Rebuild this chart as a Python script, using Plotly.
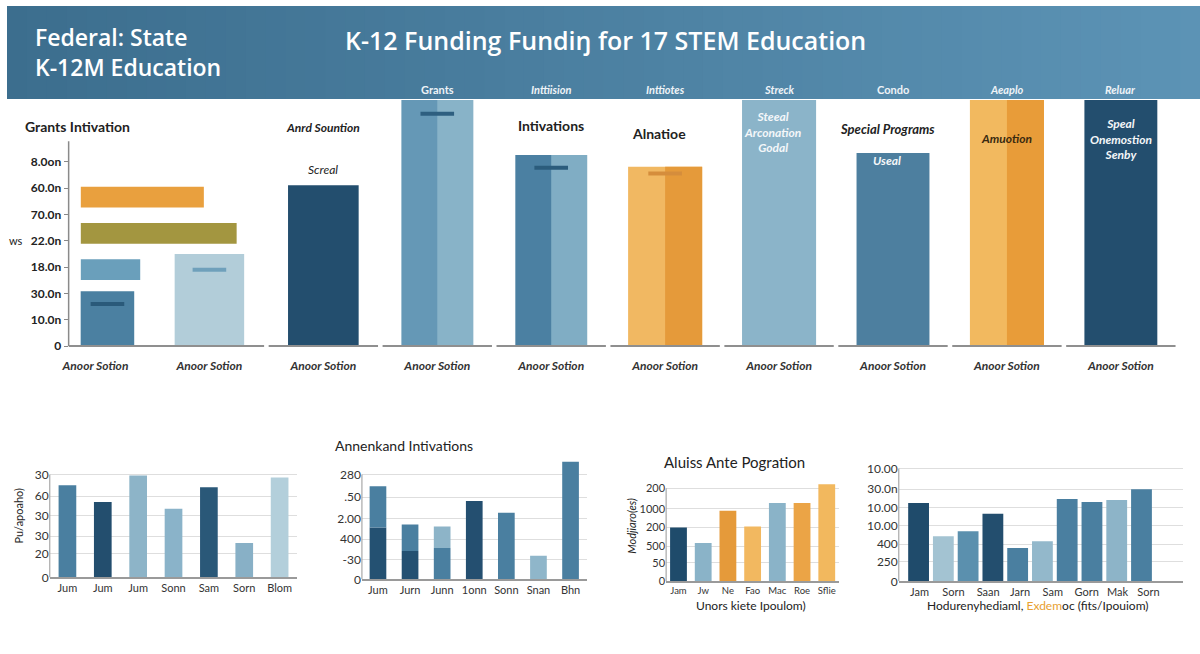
import plotly.graph_objects as go

W, H = 1200, 654


def fx(px):
    return px / W


def fy(px):
    return 1 - px / H


# ---------------- data ----------------
# top panel, one bar per group
top_labels = ["Anoor Sotion"] * 10
top_values = [56, 94, 164, 262, 195, 183, 258, 197, 266, 270]
top_colors = ["#4b80a1", "#b2cdd9", "#234e6e", "#6598b6", "#4b80a2",
              "#f1b862", "#8bb4c9", "#4d7f9f", "#f2b95f", "#234e6e"]
half_values = [None, None, None, 262, 195, 183, None, None, 266, None]
half_colors = ["#88b3c8", "#88b3c8", "#88b3c8", "#88b3c8", "#80adc4",
               "#e59a3a", "#88b3c8", "#88b3c8", "#e89c39", "#88b3c8"]
top_tick_text = ["<b>0</b>", "10.0n", "30.0n", "18.0n", "22.0n", "70.0n", "60.0n", "8.0on"]
header_labels = ["Grants", "Inttiision", "Inttiotes", "Streck", "Condo", "Aeaplo", "Reluar"]

dash_groups = [0, 1, 3, 4, 5]
dash_values = [43, 78, 237, 182, 176]
dash_colors = ["#2a5a7a", "#6fa0bb", "#2e5f80", "#2b5c7c", "#d58d3c"]

# horizontal inset bars (bottom to top)
inset_values = [60, 157, 124]
inset_colors = ["#6a9fbb", "#a39640", "#e9a03e"]

# bottom panel A
a_labels = ["Jum", "Jum", "Jum", "Sonn", "Sam", "Sorn", "Blom"]
a_values = [94, 77, 104, 70, 92, 35, 102]
a_colors = ["#4a7fa0", "#234e6e", "#8db4c8", "#8ab3c9", "#2a5878", "#88b0c6", "#b3cfdb"]
a_tick_vals = [0, 24, 42, 63, 83, 105]
a_tick_text = ["0", "20", "30", "30", "60", "30"]

# bottom panel B (stacked)
b_labels = ["Jum", "Jurn", "Junn", "1onn", "Sonn", "Snan", "Bhn"]
b_lower = [53, 29, 32, 80, 68, 24, 120]
b_upper = [42, 27, 22, None, None, None, None]
b_lower_colors = ["#245172", "#245172", "#4a7fa0", "#244f70", "#4a7fa0", "#8fb6ca", "#4a7fa0"]
b_upper_colors = ["#4a7fa0", "#4a7fa0", "#8db4c8", "#4a7fa0", "#4a7fa0", "#4a7fa0", "#4a7fa0"]
b_tick_vals = [0, 20, 41, 62, 84, 107]
b_tick_text = ["0", "-30", "400", "2.00", ".50", "280"]

# bottom panel C
c_labels = ["Jam", "Jw", "Ne", "Fao", "Mac", "Roe", "Sflie"]
c_values = [55, 39, 72, 56, 80, 80, 99]
c_colors = ["#1f4b6b", "#8ab3c8", "#e59a3a", "#f2b860", "#8ab3c8", "#eba446", "#f2b85e"]
c_tick_vals = [0, 19, 36, 55, 74, 95]
c_tick_text = ["0", "50", "500", "200", "1000", "200"]

# bottom panel D
d_values = [80, 46, 51, 69, 34, 41, 84, 81, 83, 94]
d_colors = ["#1f4b6b", "#a3c3d2", "#5b90ae", "#234e6e", "#4a7fa0",
            "#93b8cb", "#4a7fa0", "#4a7fa0", "#8db4c8", "#4a7fa0"]
d_labels = ["Jam", "Sorn", "Saan", "Jarn", "Sam", "Gorn", "Mak", "Sorn"]
d_label_pos = [0.04, 1.41, 2.81, 4.1, 5.42, 6.79, 8.03, 9.28]
d_tick_vals = [0, 20, 38, 57, 75, 94, 115]
d_tick_text = ["0", "250", "400", "10.00", "10.00", "30.0n", "10.00"]

FONT = "Lato, Open Sans, sans-serif"
HEAD_FONT = "Open Sans, Lato, sans-serif"
DARK = "#222222"

fig = go.Figure()

# ---------------- top panel ----------------
groups = list(range(len(top_values)))
widths = [0.47, 0.61, 0.62, 0.63, 0.63, 0.65, 0.65, 0.64, 0.65, 0.64]
offsets = [-w / 2 for w in widths]
offsets[0] += 0.105
fig.add_trace(go.Bar(x=groups, y=top_values, width=widths, offset=offsets,
                     marker=dict(color=top_colors, line_width=0),
                     xaxis="x", yaxis="y", hoverinfo="skip"))
fig.add_trace(go.Bar(x=groups, y=half_values, width=[w / 2 for w in widths],
                     offset=[o + w / 2 for o, w in zip(offsets, widths)],
                     marker=dict(color=half_colors, line_width=0),
                     xaxis="x", yaxis="y", hoverinfo="skip"))
dash_x = [g + offsets[g] + widths[g] / 2 for g in dash_groups]
fig.add_trace(go.Scatter(x=dash_x, y=dash_values, mode="markers",
                         marker=dict(symbol="line-ew", size=24,
                                     line=dict(width=4, color=dash_colors)),
                         xaxis="x", yaxis="y", hoverinfo="skip"))

fig.add_trace(go.Bar(y=[0, 1, 2], x=inset_values, orientation="h", width=0.57,
                     marker=dict(color=inset_colors, line_width=0),
                     xaxis="x2", yaxis="y2", hoverinfo="skip"))

# ---------------- bottom panels ----------------
fig.add_trace(go.Bar(x=list(range(7)), y=a_values, width=0.5,
                     marker=dict(color=a_colors, line_width=0),
                     xaxis="x3", yaxis="y3", hoverinfo="skip"))
fig.add_trace(go.Bar(x=list(range(7)), y=b_lower, width=0.52,
                     marker=dict(color=b_lower_colors, line_width=0),
                     xaxis="x4", yaxis="y4", hoverinfo="skip"))
fig.add_trace(go.Bar(x=list(range(7)), y=b_upper, base=b_lower, width=0.52,
                     marker=dict(color=b_upper_colors, line_width=0),
                     xaxis="x4", yaxis="y4", hoverinfo="skip"))
fig.add_trace(go.Bar(x=list(range(7)), y=c_values, width=0.68,
                     marker=dict(color=c_colors, line_width=0),
                     xaxis="x5", yaxis="y5", hoverinfo="skip"))
fig.add_trace(go.Bar(x=list(range(10)), y=d_values, width=0.84,
                     marker=dict(color=d_colors, line_width=0),
                     xaxis="x6", yaxis="y6", hoverinfo="skip"))

step = 114.6
grid = "#dedede"
small_axis = dict(showgrid=False, zeroline=False, showline=True, linecolor="#9a9a9a",
                  linewidth=1.5, ticks="", tickfont=dict(size=11, color="#333"))
small_y = dict(showgrid=True, gridcolor=grid, gridwidth=1, zeroline=False, showline=False,
               ticks="", tickfont=dict(size=12, color="#333"))

fig.update_layout(
    width=W, height=H, margin=dict(l=0, r=0, t=0, b=0),
    paper_bgcolor="white", plot_bgcolor="rgba(0,0,0,0)",
    barmode="overlay", showlegend=False, font=dict(family=FONT, color=DARK),
    xaxis=dict(domain=[fx(62), fx(1190)], range=[-(89 - 62) / step, (1190 - 89) / step],
               tickvals=groups, ticktext=top_labels, showgrid=False, zeroline=False,
               showline=False, ticks="", ticklabelstandoff=11,
               tickfont=dict(size=12, color="#333", style="italic", weight="bold"),
               anchor="y"),
    yaxis=dict(domain=[fy(347), fy(96)], range=[0, 251],
               tickvals=[i * 26.85 for i in range(8)], ticktext=top_tick_text,
               showgrid=False, zeroline=False, showline=False, ticks="outside",
               ticklen=4, tickcolor="#888", tickfont=dict(size=12, color=DARK, weight="bold"),
               anchor="x"),
    xaxis2=dict(domain=[fx(74), fx(250)], range=[0, 176], visible=False, anchor="y2"),
    yaxis2=dict(domain=[fy(287.5), fy(176.5)], range=[-0.5, 2.5], visible=False, anchor="x2"),
    xaxis3=dict(small_axis, domain=[fx(43), fx(292)], range=[-0.5, 6.5],
                tickvals=list(range(7)), ticktext=a_labels, anchor="y3"),
    yaxis3=dict(small_y, domain=[fy(583), fy(476)], range=[0, 107],
                tickvals=a_tick_vals, ticktext=a_tick_text, anchor="x3"),
    xaxis4=dict(small_axis, domain=[fx(357), fx(583)], range=[-0.5, 6.5],
                tickvals=list(range(7)), ticktext=b_labels, anchor="y4"),
    yaxis4=dict(small_y, domain=[fy(585), fy(463)], range=[0, 122],
                tickvals=b_tick_vals, ticktext=b_tick_text, anchor="x4"),
    xaxis5=dict(small_axis, domain=[fx(663), fx(837)], range=[-0.5, 6.5],
                tickvals=list(range(7)), ticktext=c_labels, anchor="y5",
                tickfont=dict(size=9.5, color="#333")),
    yaxis5=dict(small_y, domain=[fy(587), fy(486)], range=[0, 101],
                tickvals=c_tick_vals, ticktext=c_tick_text, anchor="x5",
                tickfont=dict(size=11, color="#333")),
    xaxis6=dict(small_axis, domain=[fx(897), fx(1183)], range=[-0.80, 10.68],
                tickvals=d_label_pos, ticktext=d_labels, anchor="y6"),
    yaxis6=dict(small_y, domain=[fy(587), fy(470)], range=[0, 117],
                tickvals=d_tick_vals, ticktext=d_tick_text, anchor="x6"),
)

shapes = []
# header gradient band
n = 60
c0, c1 = (60, 110, 142), (92, 147, 181)
for i in range(n):
    t = i / (n - 1)
    col = "rgb(%d,%d,%d)" % tuple(round(a + (b - a) * t) for a, b in zip(c0, c1))
    shapes.append(dict(type="rect", xref="paper", yref="paper", layer="above",
                       x0=i / n, x1=(i + 1) / n + 0.002, y0=fy(95), y1=1,
                       fillcolor=col, line_width=0))
# top panel axis line and baseline segments
shapes.append(dict(type="line", xref="paper", yref="paper", x0=fx(62), x1=fx(62),
                   y0=fy(138), y1=fy(347), line=dict(color="#8a8a8a", width=1.5)))
shapes.append(dict(type="line", xref="x", yref="paper", x0=-0.236, x1=1.48,
                   y0=fy(347), y1=fy(347), line=dict(color="#8f8f8f", width=2)))
for g in groups[2:]:
    shapes.append(dict(type="line", xref="x", yref="paper", x0=g - 0.48, x1=g + 0.48,
                       y0=fy(347), y1=fy(347), line=dict(color="#8f8f8f", width=2)))
# small panel vertical axis lines
for ax, top in [("3", a_tick_vals[-1]), ("4", b_tick_vals[-1]),
                ("5", c_tick_vals[-1]), ("6", d_tick_vals[-1])]:
    shapes.append(dict(type="line", xref="x%s domain" % ax, yref="y" + ax, x0=0, x1=0,
                       y0=0, y1=top, line=dict(color="#a8a8a8", width=1.2)))
fig.update_layout(shapes=shapes)


def ann(text, x, y, size=12, color=DARK, xref="paper", italic=False, weight="normal",
        xanchor="center", angle=0, family=FONT, align="center"):
    fig.add_annotation(text=text, x=x, y=y, xref=xref, yref="paper", showarrow=False,
                       xanchor=xanchor, yanchor="middle", textangle=angle, align=align,
                       font=dict(family=family, size=size, color=color,
                                 style="italic" if italic else "normal", weight=weight))


WHITE = "#ffffff"
ann("Federal: State<br>K-12M Education", fx(26), fy(47), 23, WHITE, xanchor="left",
    weight=600, family=HEAD_FONT, align="left")
ann("K-12 Funding Fundiŋ for 17 STEM Education", fx(602), fy(35), 25, WHITE, weight=600,
    family=HEAD_FONT)
for g, lab in zip(groups[3:], header_labels):
    ann(lab, g, fy(85), 11, "#eef3f7", xref="x", italic=(lab != "Grants" and lab != "Condo"),
        weight="bold")

ann("Grants Intivation", fx(16), fy(123), 14, DARK, xanchor="left", weight="bold")
ann("ws", fx(0), fy(239), 11, DARK, xanchor="left")
ann("Anrd Sountion", 2, fy(124), 12, DARK, xref="x", italic=True, weight="bold")
ann("Screal", 2, fy(167), 12, DARK, xref="x", italic=True)
ann("Intivations", 4, fy(122), 14, DARK, xref="x", weight="bold")
ann("Alnatioe", 5 - 0.05, fy(130), 14, DARK, xref="x", weight="bold")
ann("Steeal<br>Arconation<br>Godal", 6 - 0.06, fy(129), 12, "#f4f7f9", xref="x", italic=True,
    weight="bold")
ann("Special Programs", 7 - 0.05, fy(126), 13, DARK, xref="x", italic=True, weight="bold")
ann("Useal", 7 - 0.05, fy(158), 12, "#f4f7f9", xref="x", italic=True, weight="bold")
ann("Amuotion", 8, fy(135), 12, "#3a2a10", xref="x", italic=True, weight="bold")
ann("Speal<br>Onemostion<br>Senby", 9, fy(136), 12, "#f4f7f9", xref="x", italic=True,
    weight="bold")

ann("Annenkand Intivations", fx(328), fy(448), 14, DARK, xanchor="left")
ann("Aluiss Ante Pogration", fx(732), fy(465), 15, DARK)
ann("Pu/apoaho)", fx(12), fy(520), 11, DARK, angle=-90)
ann("Modjiaro(es)", fx(628), fy(530), 11, DARK, angle=-90, italic=True)
ann("Unors kiete Ipoulom)", fx(748), fy(612), 12, DARK)
ann("Hodurenyhediaml, <span style='color:#e8a030'>Exdem</span>oc (fits/Ipouiom)",
    fx(1037), fy(612), 12, DARK)

fig.write_html("out.html", config={"displayModeBar": False},
               post_script="document.body.style.margin='0';"
                           "document.body.style.overflow='hidden';")
